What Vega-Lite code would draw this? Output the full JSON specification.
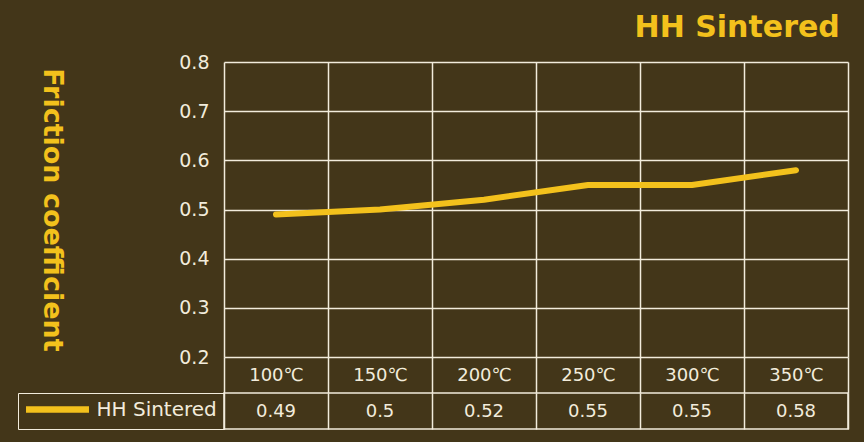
{
  "$schema": "https://vega.github.io/schema/vega-lite/v6.json",
  "background": "#433619",
  "padding": {"left": 16, "top": 13, "right": 16, "bottom": 13},
  "bounds": "flush",
  "spacing": 36,
  "title": {
    "text": "HH Sintered",
    "anchor": "end",
    "color": "#f3c11c",
    "font": "DejaVu Sans",
    "fontSize": 30,
    "fontWeight": "bold",
    "dx": -9,
    "offset": 10
  },
  "data": {
    "values": [
      {"temp": "100℃", "value": 0.49, "series": "HH Sintered"},
      {"temp": "150℃", "value": 0.5, "series": "HH Sintered"},
      {"temp": "200℃", "value": 0.52, "series": "HH Sintered"},
      {"temp": "250℃", "value": 0.55, "series": "HH Sintered"},
      {"temp": "300℃", "value": 0.55, "series": "HH Sintered"},
      {"temp": "350℃", "value": 0.58, "series": "HH Sintered"}
    ]
  },
  "config": {
    "font": "DejaVu Sans",
    "view": {"stroke": null}
  },
  "resolve": {"legend": {"stroke": "independent"}, "scale": {"stroke": "independent"}},
  "vconcat": [
    {
      "width": 624,
      "height": 295,
      "mark": {"type": "line", "color": "#f3c11c", "strokeWidth": 6, "strokeCap": "round", "strokeJoin": "round", "interpolate": "linear"},
      "encoding": {
        "x": {
          "field": "temp", "type": "ordinal", "sort": null,
          "scale": {"paddingInner": 0, "paddingOuter": 0},
          "axis": {
            "title": null, "domain": false, "grid": true, "gridColor": "#f2ecdc", "gridWidth": 1.5, "gridOpacity": 1,
            "tickBand": "extent", "ticks": true, "tickSize": 36, "tickColor": "#f2ecdc", "tickWidth": 1.5,
            "labelColor": "#f2ecdc", "labelFontSize": 18, "labelPadding": -27, "labelAngle": 0
          }
        },
        "y": {
          "field": "value", "type": "quantitative",
          "scale": {"domain": [0.2, 0.8], "nice": false, "zero": false},
          "axis": {
            "title": "Friction coefficient", "titleAngle": 90, "titleColor": "#f3c11c", "titleFontSize": 27, "titleFontWeight": "bold",
            "titlePadding": 141,
            "values": [0.2, 0.3, 0.4, 0.5, 0.6, 0.7, 0.8], "format": ".1f",
            "domain": false, "ticks": false, "grid": true, "gridColor": "#f2ecdc", "gridWidth": 1.5, "gridOpacity": 1,
            "labelColor": "#f2ecdc", "labelFontSize": 19, "labelPadding": 15
          }
        }
      }
    },
    {
      "width": 624,
      "height": 36,
      "view": {"stroke": "#f2ecdc", "strokeWidth": 1.5},
      "layer": [
        {
          "mark": {"type": "text", "color": "#f2ecdc", "fontSize": 18, "dy": 1},
          "encoding": {
            "x": {
              "field": "temp", "type": "ordinal", "sort": null,
              "scale": {"paddingInner": 0, "paddingOuter": 0},
              "axis": {"title": null, "domain": false, "labels": false, "ticks": false, "grid": true, "tickBand": "extent", "gridColor": "#f2ecdc", "gridWidth": 1.5, "gridOpacity": 1}
            },
            "text": {"field": "value", "type": "quantitative", "format": ""}
          }
        },
        {
          "mark": {"type": "text", "text": ""},
          "encoding": {
            "x": {"field": "temp", "type": "ordinal", "sort": null},
            "stroke": {
              "field": "series", "type": "nominal",
              "scale": {"range": ["#f3c11c"]},
              "legend": {
                "orient": "left", "offset": 0, "title": null,
                "symbolType": "M-8,0H8", "symbolSize": 62, "symbolStrokeWidth": 6.5, "symbolOffset": 23,
                "labelColor": "#f2ecdc", "labelFontSize": 20, "labelOffset": 29,
                "padding": 6.5, "strokeColor": "#f2ecdc"
              }
            }
          }
        }
      ]
    }
  ]
}
